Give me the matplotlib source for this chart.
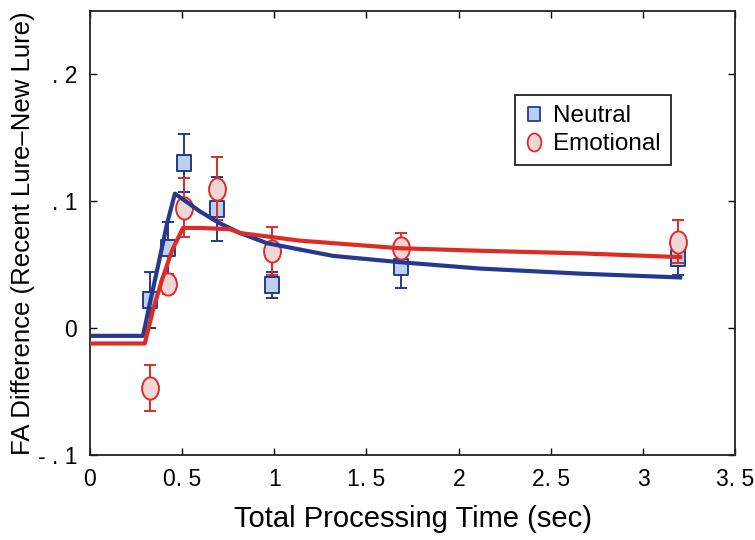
import matplotlib
matplotlib.use('Agg')
import matplotlib.pyplot as plt
from matplotlib.path import Path
from matplotlib.transforms import Affine2D
from matplotlib.lines import Line2D

plt.rcParams['font.family'] = ['Liberation Sans', 'DejaVu Sans']

# Données
temps = [0.326, 0.423, 0.510, 0.689, 0.988, 1.687, 3.19]
neutre = [0.022, 0.063, 0.130, 0.094, 0.034, 0.048, 0.055]
neutre_err = [0.022, 0.021, 0.023, 0.025, 0.010, 0.016, 0.013]
emo = [-0.047, 0.035, 0.095, 0.110, 0.061, 0.063, 0.068]
emo_err = [0.018, 0.008, 0.023, 0.025, 0.019, 0.012, 0.017]

# Courbes du modèle (points relevés)
bleu_x = [0, 0.288, 0.326, 0.380, 0.418, 0.461, 0.52, 0.597, 0.700, 0.814, 0.960, 1.318, 1.682, 2.116, 2.659, 3.201]
bleu_y = [-0.006, -0.006, 0.020, 0.056, 0.082, 0.106, 0.100, 0.092, 0.083, 0.075, 0.067, 0.057, 0.052, 0.047, 0.043, 0.040]
rouge_x = [0, 0.298, 0.342, 0.391, 0.445, 0.505, 0.60, 0.760, 0.814, 1.139, 1.682, 2.116, 2.659, 3.201]
rouge_y = [-0.012, -0.012, 0.014, 0.038, 0.061, 0.079, 0.079, 0.078, 0.075, 0.069, 0.063, 0.061, 0.059, 0.056]

bleu = '#26398f'
rouge = '#dd2c26'
bleu_clair = '#b9d3ee'
rose = '#f1d6d6'

# marqueurs un peu plus hauts que larges, comme sur l'original
ellipse = Path.unit_circle().transformed(Affine2D().scale(0.76, 1.0))
carre = Path([(-0.85, -1), (0.85, -1), (0.85, 1), (-0.85, 1), (-0.85, -1)],
             [Path.MOVETO, Path.LINETO, Path.LINETO, Path.LINETO, Path.CLOSEPOLY])

fig = plt.figure(figsize=(7.55, 5.4), dpi=100)
ax = fig.add_axes([0.119, 0.157, 0.855, 0.823])

ax.errorbar(temps, neutre, yerr=neutre_err, fmt='none', ecolor=bleu,
            elinewidth=1.4, capsize=4, capthick=1.4, zorder=2)
ax.plot(temps, neutre, ls='none', marker=carre, ms=12, mfc=bleu_clair, mec=bleu, mew=1.4, zorder=2)
ax.errorbar(temps, emo, yerr=emo_err, fmt='none', ecolor=rouge,
            elinewidth=1.4, capsize=4, capthick=1.4, zorder=2)
ax.plot(temps, emo, ls='none', marker=ellipse, ms=16, mfc=rose, mec=rouge, mew=1.4, zorder=2)
ax.plot(bleu_x, bleu_y, color=bleu, lw=3, zorder=3)
ax.plot(rouge_x, rouge_y, color=rouge, lw=3, zorder=3)

ax.set_xlim(0, 3.5)
ax.set_ylim(-0.1, 0.25)
ax.set_xticks([0, 0.5, 1, 1.5, 2, 2.5, 3, 3.5])
ax.set_xticklabels(['0', '0. 5', '1', '1. 5', '2', '2. 5', '3', '3. 5'])
ax.set_yticks([-0.1, 0, 0.1, 0.2])
ax.set_yticklabels(['- . 1', '0', '. 1', '. 2'])
ax.tick_params(direction='in', top=True, right=True, length=5, width=1, labelsize=16.5, pad=9)
for s in ax.spines.values():
    s.set_linewidth(1.3)
    s.set_color('#222222')

ax.set_xlabel('Total Processing Time (sec)', fontsize=21, labelpad=10)
ax.set_ylabel('FA Difference (Recent Lure\u2013New Lure)', fontsize=18.5, labelpad=2)

poignees = [Line2D([], [], ls='none', marker=carre, ms=10, mfc=bleu_clair, mec=bleu, mew=1.3),
            Line2D([], [], ls='none', marker=ellipse, ms=13, mfc=rose, mec=rouge, mew=1.3)]
leg = ax.legend(poignees, ['Neutral', 'Emotional'], loc='upper left', bbox_to_anchor=(0.659, 0.811),
                fontsize=17.5, frameon=True, fancybox=False, edgecolor='#222222', framealpha=1,
                handlelength=0.7, handletextpad=0.45, borderpad=0.42, labelspacing=0.25,
                borderaxespad=0)
leg.get_frame().set_linewidth(1.3)

fig.savefig('out.png', dpi=100)
